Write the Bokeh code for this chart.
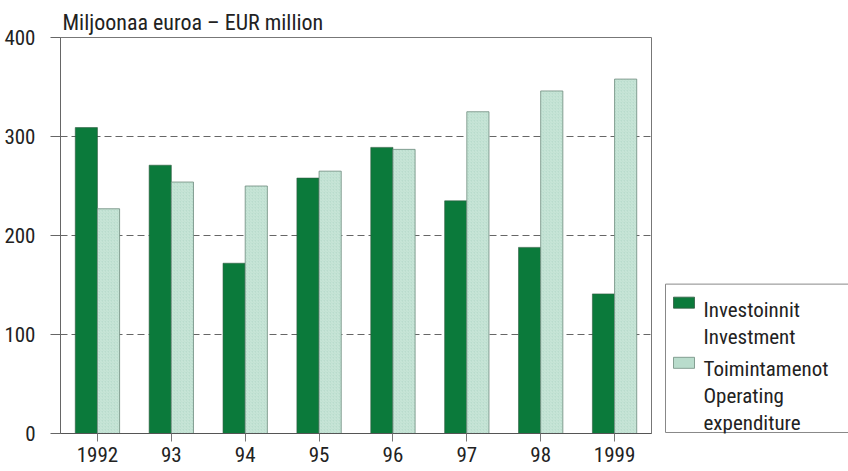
from bokeh.plotting import figure
from bokeh.layouts import row
from bokeh.models import FactorRange, ColumnDataSource, FixedTicker
from bokeh.transform import dodge
from bokeh.embed import file_html
from bokeh.resources import INLINE

years = ["1992", "93", "94", "95", "96", "97", "98", "1999"]
investment = [309, 271, 172, 258, 289, 235, 188, 141]
operating = [227, 254, 250, 265, 287, 325, 346, 358]
y_ticks = [0, 100, 200, 300, 400]
title_text = "Miljoonaa euroa \u2013 EUR million"
legend_lines = ["Investoinnit", "Investment", "Toimintamenot", "Operating", "expenditure"]

FONT = "Roboto Condensed"
DARK = "#0b7a3b"
LIGHT = "#b9dccc"
TEXT = "#222222"

src = ColumnDataSource(dict(years=years, investment=investment, operating=operating))

p = figure(x_range=FactorRange(*years, range_padding=0), y_range=(0, 400),
           width=652, height=471, output_backend="svg", toolbar_location=None,
           min_border_left=60, min_border_right=1, min_border_top=37, min_border_bottom=38,
           title=title_text)

p.title.text_font = FONT
p.title.text_font_size = "22px"
p.title.text_font_style = "normal"
p.title.text_color = TEXT
p.title.align = "left"
p.title.standoff = 5
p.title.offset = 2

r1 = p.vbar(x=dodge("years", -0.15, range=p.x_range), top="investment", width=0.30, source=src,
            fill_color=DARK, line_color="#2f5a40", line_width=0.6)
r2 = p.vbar(x=dodge("years", 0.15, range=p.x_range), top="operating", width=0.30, source=src,
            fill_color=LIGHT, line_color="#6f8c7e", line_width=0.8,
            hatch_pattern="right_diagonal_line", hatch_color="#d2ebdf", hatch_scale=3, hatch_weight=0.7)

p.background_fill_color = "white"
p.border_fill_color = "white"
p.outline_line_color = "#777777"
p.outline_line_width = 1

p.xgrid.grid_line_color = None
p.ygrid.grid_line_color = "#666666"
p.ygrid.grid_line_dash = "7 4"
p.ygrid.grid_line_width = 1

p.yaxis.ticker = FixedTicker(ticks=y_ticks)
p.yaxis.axis_line_color = "#666666"
p.yaxis.major_tick_line_color = "#666666"
p.yaxis.major_tick_out = 10
p.yaxis.major_tick_in = 0
p.yaxis.minor_tick_line_color = None
p.yaxis.major_label_text_font = FONT
p.yaxis.major_label_text_font_size = "21px"
p.yaxis.major_label_text_color = TEXT
p.yaxis.major_label_standoff = 15

p.xaxis.axis_line_color = "#555555"
p.xaxis.major_tick_line_color = "#777777"
p.xaxis.major_tick_out = 8
p.xaxis.major_tick_in = 0
p.xaxis.major_label_text_font = FONT
p.xaxis.major_label_text_font_size = "21px"
p.xaxis.major_label_text_color = TEXT
p.xaxis.major_label_standoff = 5

# Legend panel: its frame is aligned with the chart frame, so page-y pixels are used as data units
LW = 196
lf = figure(width=LW, height=471, x_range=(0, LW), y_range=(433, 38),
            output_backend="svg", toolbar_location=None,
            min_border=0, min_border_left=0, min_border_right=0,
            min_border_top=37, min_border_bottom=38)
lf.axis.visible = False
lf.grid.grid_line_color = None
lf.outline_line_color = None
lf.background_fill_color = "white"
lf.border_fill_color = "white"

lf.quad(left=[13], right=[LW + 5], top=[284], bottom=[432],
        fill_color="white", line_color="#888888", line_width=1)
lf.quad(left=[21, 21], right=[42, 42], top=[297, 357], bottom=[308, 368],
        fill_color=[DARK, LIGHT], line_color=["#2f5a40", "#6f8c7e"], line_width=0.8)
lf.text(x=[51] * 5, y=[310, 337, 369, 396, 423], text=legend_lines,
        text_font={"value": FONT}, text_font_size="21px", text_color=TEXT,
        text_baseline="alphabetic", text_align="left")

layout = row(p, lf, spacing=0)
open("out.html", "w").write(file_html(layout, INLINE))
